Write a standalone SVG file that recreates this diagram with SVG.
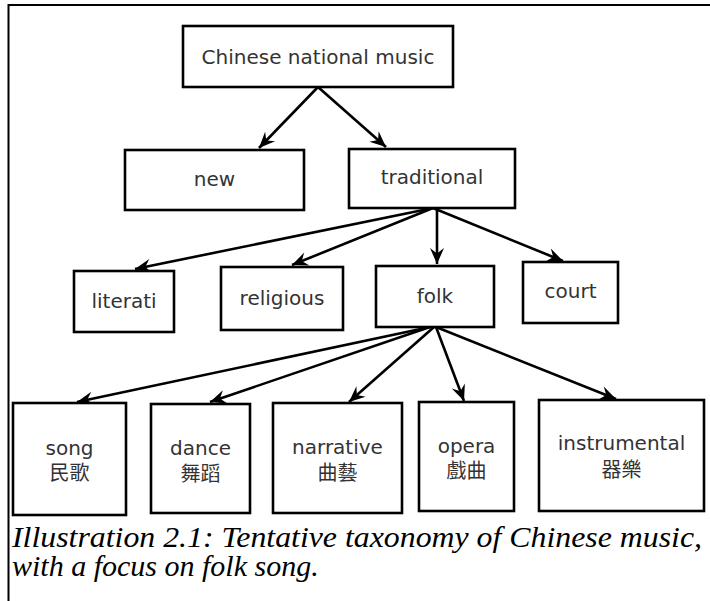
<svg xmlns="http://www.w3.org/2000/svg" width="710" height="601" viewBox="0 0 710 601">
<style>
.box{fill:#fff;stroke:#000;stroke-width:2.6}
.lbl{font-family:"DejaVu Sans","Noto Sans CJK TC",sans-serif;font-size:20px;fill:#333;text-anchor:middle}
.cjk{font-family:"Noto Sans CJK TC","DejaVu Sans",sans-serif;font-size:20px;fill:#333;text-anchor:middle}
.edge{stroke:#000;stroke-width:2.6;fill:none;marker-end:url(#arr)}
.cap{font-family:"Liberation Serif","Times New Roman",serif;font-style:italic;font-size:30px;fill:#000}
</style>
<defs>
<marker id="arr" markerUnits="userSpaceOnUse" markerWidth="20" markerHeight="18" viewBox="-17 -9 19 18" refX="0" refY="0" orient="auto">
<path d="M0,0 L-16,-7 L-10.5,0 L-16,7 Z" fill="#000"/>
</marker>
</defs>
<rect width="710" height="601" fill="#fff"/>
<g id="frame">
<line x1="8.5" y1="5" x2="710" y2="5" stroke="#000" stroke-width="2"/>
<line x1="8.5" y1="4" x2="8.5" y2="601" stroke="#000" stroke-width="2"/>
</g>
<g id="connectors">
<line class="edge" x1="318" y1="87" x2="259" y2="148"/>
<line class="edge" x1="318" y1="87" x2="386" y2="147"/>
<line class="edge" x1="433" y1="208" x2="135" y2="269"/>
<line class="edge" x1="433" y1="208" x2="292" y2="265"/>
<line class="edge" x1="437" y1="208" x2="437" y2="264"/>
<line class="edge" x1="433" y1="208" x2="563" y2="261"/>
<line class="edge" x1="430" y1="327" x2="77" y2="402"/>
<line class="edge" x1="430" y1="327" x2="210" y2="402"/>
<line class="edge" x1="434" y1="327" x2="349" y2="402"/>
<line class="edge" x1="436" y1="327" x2="464" y2="401"/>
<line class="edge" x1="436" y1="327" x2="616" y2="399"/>
</g>
<g id="n-root"><rect class="box" x="183" y="26" width="270" height="61"/><text class="lbl" x="318" y="64">Chinese national music</text></g>
<g id="n-new"><rect class="box" x="125" y="150" width="179" height="60"/><text class="lbl" x="214.5" y="186">new</text></g>
<g id="n-traditional"><rect class="box" x="349" y="149" width="166" height="59"/><text class="lbl" x="432" y="184">traditional</text></g>
<g id="n-literati"><rect class="box" x="74" y="271" width="100" height="61"/><text class="lbl" x="124" y="308">literati</text></g>
<g id="n-religious"><rect class="box" x="221" y="267" width="122" height="63"/><text class="lbl" x="282" y="305">religious</text></g>
<g id="n-folk"><rect class="box" x="376" y="266" width="118" height="61"/><text class="lbl" x="435" y="303">folk</text></g>
<g id="n-court"><rect class="box" x="523" y="262" width="95" height="61"/><text class="lbl" x="570.5" y="298">court</text></g>
<g id="n-song"><rect class="box" x="13" y="403" width="113" height="112"/><text class="lbl" x="69.5" y="455">song</text><text class="cjk" x="69.5" y="480">民歌</text></g>
<g id="n-dance"><rect class="box" x="151" y="404" width="99" height="109"/><text class="lbl" x="200.5" y="455">dance</text><text class="cjk" x="200.5" y="481">舞蹈</text></g>
<g id="n-narrative"><rect class="box" x="273" y="403" width="129" height="110"/><text class="lbl" x="337.5" y="454">narrative</text><text class="cjk" x="337.5" y="480">曲藝</text></g>
<g id="n-opera"><rect class="box" x="419" y="402" width="95" height="109"/><text class="lbl" x="466.5" y="453">opera</text><text class="cjk" x="466.5" y="478">戲曲</text></g>
<g id="n-instrumental"><rect class="box" x="539" y="400" width="165" height="111"/><text class="lbl" x="621.5" y="450">instrumental</text><text class="cjk" x="621.5" y="477">器樂</text></g>
<g id="caption">
<text class="cap" x="12" y="547" textLength="690" lengthAdjust="spacingAndGlyphs">Illustration 2.1: Tentative taxonomy of Chinese music,</text>
<text class="cap" x="12" y="576">with a focus on folk song.</text>
</g>
</svg>
